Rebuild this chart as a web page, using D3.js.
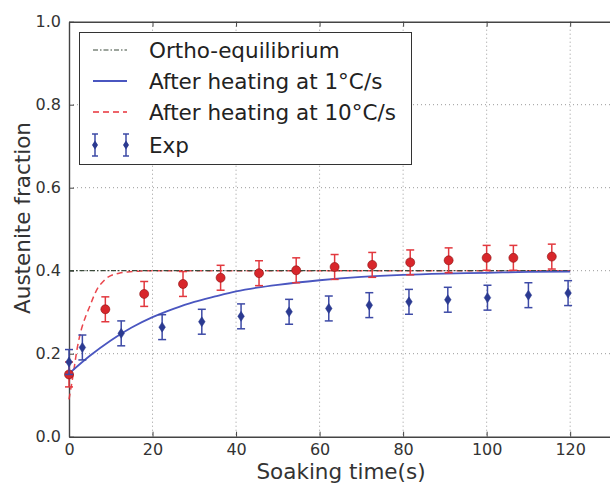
<!DOCTYPE html>
<html><head><meta charset="utf-8">
<script src="https://cdn.jsdelivr.net/npm/d3@7"></script>
<style>
html,body{margin:0;padding:0;background:#fff;overflow:hidden;}
svg{display:block;font-family:"DejaVu Sans",sans-serif;}
</style></head>
<body>
<svg id="c" width="610" height="484"></svg>
<script>
// ---- data ----
const xTicks = [0, 20, 40, 60, 80, 100, 120];
const yTicks = [0.0, 0.2, 0.4, 0.6, 0.8, 1.0];

const orthoT = [0, 120];
const orthoV = [0.4, 0.4];

const slowT = [0, 5, 10, 15, 20, 25, 30, 35, 40, 45, 50, 60, 70, 80, 90, 100, 110, 120];
const slowV = [0.152, 0.195, 0.232, 0.263, 0.288, 0.308, 0.325, 0.338, 0.350, 0.359, 0.366, 0.377, 0.385, 0.390, 0.393, 0.395, 0.397, 0.398];

const fastT = [0, 1, 2, 3, 4, 5, 6, 7, 8, 9, 10, 12, 14, 17, 20, 30, 60, 120];
const fastV = [0.09, 0.15, 0.215, 0.26, 0.29, 0.315, 0.34, 0.36, 0.372, 0.382, 0.388, 0.394, 0.397, 0.399, 0.4, 0.4, 0.4, 0.4];

const expRedT = [0, 8.7, 18.0, 27.3, 36.3, 45.5, 54.4, 63.6, 72.6, 81.7, 90.9, 100.0, 106.4, 115.6];
const expRedV = [0.15, 0.307, 0.344, 0.368, 0.383, 0.394, 0.401, 0.409, 0.414, 0.420, 0.425, 0.431, 0.431, 0.434];
const expRedErr = [0.03, 0.03, 0.03, 0.03, 0.03, 0.03, 0.03, 0.03, 0.03, 0.03, 0.03, 0.03, 0.03, 0.03];

const expBlueT = [0, 3.2, 12.5, 22.3, 31.8, 41.2, 52.7, 62.2, 71.9, 81.4, 90.7, 100.2, 110.0, 119.5];
const expBlueV = [0.18, 0.215, 0.249, 0.264, 0.277, 0.290, 0.301, 0.309, 0.317, 0.325, 0.330, 0.335, 0.341, 0.346];
const expBlueErr = [0.03, 0.03, 0.03, 0.03, 0.03, 0.03, 0.03, 0.03, 0.03, 0.03, 0.03, 0.03, 0.03, 0.03];

const legendLabels = ["Ortho-equilibrium", "After heating at 1\u00B0C/s", "After heating at 10\u00B0C/s", "Exp"];

// ---- drawing ----
const svg = d3.select("#c");
const L = 69, R = 653.7, T = 21.7, B = 436.7;
const x = d3.scaleLinear().domain([0, 140]).range([L, R]);
const y = d3.scaleLinear().domain([0, 1]).range([B, T]);

const axisCol = "#444", txtCol = "#333";
const blueLine = "#4a56c0", blueMark = "#2b3a91", blueErr = "#3d4aa6";
const redLine = "#e8323a", redMark = "#d8262b", redErr = "#e2383e";

// grid
const g = svg.append("g");
g.selectAll(".vg").data(xTicks.filter(d => d > 0)).enter().append("line")
  .attr("x1", d => x(d)).attr("x2", d => x(d)).attr("y1", T).attr("y2", B)
  .attr("stroke", "#999").attr("stroke-width", 1).attr("stroke-dasharray", "1,3");
g.selectAll(".hg").data(yTicks.filter(d => d > 0 && d < 1)).enter().append("line")
  .attr("x1", L).attr("x2", R).attr("y1", d => y(d)).attr("y2", d => y(d))
  .attr("stroke", "#999").attr("stroke-width", 1).attr("stroke-dasharray", "1,3");

// axes with inward ticks
const ax = d3.axisBottom(x).tickValues(xTicks).tickFormat(d3.format("d")).tickSizeInner(-5).tickSizeOuter(0).tickPadding(7);
const ay = d3.axisLeft(y).tickValues(yTicks).tickFormat(d3.format(".1f")).tickSizeInner(-5).tickSizeOuter(0).tickPadding(8);
const axT = d3.axisTop(x).tickValues(xTicks).tickFormat("").tickSizeInner(-5).tickSizeOuter(0);
const ayR = d3.axisRight(y).tickValues(yTicks).tickFormat("").tickSizeInner(-5).tickSizeOuter(0);

function styleAxis(sel) {
  sel.select(".domain").attr("stroke", axisCol).attr("stroke-width", 1.4);
  sel.selectAll(".tick line").attr("stroke", axisCol).attr("stroke-width", 1);
  sel.selectAll(".tick text").attr("fill", txtCol).style("font-size", "16px").style("font-family", "DejaVu Sans");
}
styleAxis(svg.append("g").attr("transform", `translate(0,${B})`).call(ax));
styleAxis(svg.append("g").attr("transform", `translate(${L},0)`).call(ay));
styleAxis(svg.append("g").attr("transform", `translate(0,${T})`).call(axT));
styleAxis(svg.append("g").attr("transform", `translate(${R},0)`).call(ayR));

// lines
const line = d3.line().x(d => x(d[0])).y(d => y(d[1]));
const lineC = d3.line().x(d => x(d[0])).y(d => y(d[1])).curve(d3.curveMonotoneX);

svg.append("path").datum(d3.zip(fastT, fastV)).attr("d", lineC)
  .attr("fill", "none").attr("stroke", redLine).attr("stroke-width", 1.5).attr("stroke-dasharray", "6,4").attr("opacity", 0.9);
svg.append("path").datum(d3.zip(orthoT, orthoV)).attr("d", line)
  .attr("fill", "none").attr("stroke", "#3a4a3a").attr("stroke-width", 1.2).attr("stroke-dasharray", "5,2,1.5,2");
svg.append("path").datum(d3.zip(slowT, slowV)).attr("d", lineC)
  .attr("fill", "none").attr("stroke", blueLine).attr("stroke-width", 1.8);

// error bars
function errorbars(T_, V_, E_, col, markCol, shape) {
  const data = T_.map((t, i) => ({t, v: V_[i], e: E_[i]}));
  const gg = svg.append("g");
  gg.selectAll(".eb").data(data).enter().append("line")
    .attr("x1", d => x(d.t)).attr("x2", d => x(d.t))
    .attr("y1", d => y(d.v - d.e)).attr("y2", d => y(d.v + d.e))
    .attr("stroke", col).attr("stroke-width", 1.5);
  ["lo", "hi"].forEach(k => {
    gg.selectAll(".cap" + k).data(data).enter().append("line")
      .attr("x1", d => x(d.t) - 4).attr("x2", d => x(d.t) + 4)
      .attr("y1", d => y(k === "lo" ? d.v - d.e : d.v + d.e))
      .attr("y2", d => y(k === "lo" ? d.v - d.e : d.v + d.e))
      .attr("stroke", col).attr("stroke-width", 1.5);
  });
  if (shape === "circle") {
    gg.selectAll(".m").data(data).enter().append("circle")
      .attr("cx", d => x(d.t)).attr("cy", d => y(d.v)).attr("r", 4.5)
      .attr("fill", markCol).attr("stroke", "#8a1010").attr("stroke-width", 0.6);
  } else {
    gg.selectAll(".m").data(data).enter().append("path")
      .attr("transform", d => `translate(${x(d.t)},${y(d.v)})`)
      .attr("d", "M0,-5L3.3,0L0,5L-3.3,0Z")
      .attr("fill", markCol).attr("stroke", markCol).attr("stroke-width", 0.5);
  }
}
errorbars(expRedT, expRedV, expRedErr, redErr, redMark, "circle");
errorbars(expBlueT, expBlueV, expBlueErr, blueErr, blueMark, "diamond");

// axis labels
svg.append("text").attr("x", 341).attr("y", 479).attr("text-anchor", "middle")
  .attr("fill", txtCol).style("font-size", "21.5px").text("Soaking time(s)");
svg.append("text").attr("transform", "translate(30,218) rotate(-90)").attr("text-anchor", "middle")
  .attr("fill", txtCol).style("font-size", "21.5px").text("Austenite fraction");

// legend
const lg = svg.append("g");
lg.append("rect").attr("x", 79.5).attr("y", 32.5).attr("width", 332).attr("height", 132)
  .attr("fill", "#fff").attr("stroke", "#333").attr("stroke-width", 1);
const rows = [50, 81, 112, 145];
const hx1 = 93, hx2 = 127;
lg.append("line").attr("x1", hx1).attr("x2", hx2).attr("y1", rows[0]).attr("y2", rows[0])
  .attr("stroke", "#3a4a3a").attr("stroke-width", 1.2).attr("stroke-dasharray", "5,2,1.5,2");
lg.append("line").attr("x1", hx1).attr("x2", hx2).attr("y1", rows[1]).attr("y2", rows[1])
  .attr("stroke", blueLine).attr("stroke-width", 1.8);
lg.append("line").attr("x1", hx1).attr("x2", hx2).attr("y1", rows[2]).attr("y2", rows[2])
  .attr("stroke", redLine).attr("stroke-width", 1.5).attr("stroke-dasharray", "6,4");
[95, 126].forEach(cx => {
  lg.append("line").attr("x1", cx).attr("x2", cx).attr("y1", rows[3] - 11).attr("y2", rows[3] + 11)
    .attr("stroke", blueErr).attr("stroke-width", 1.5);
  [-11, 11].forEach(o => lg.append("line").attr("x1", cx - 3).attr("x2", cx + 3)
    .attr("y1", rows[3] + o).attr("y2", rows[3] + o).attr("stroke", blueErr).attr("stroke-width", 1.5));
  lg.append("path").attr("transform", `translate(${cx},${rows[3]})`).attr("d", "M0,-4.5L3,0L0,4.5L-3,0Z")
    .attr("fill", blueMark);
});
lg.selectAll(".lt").data(legendLabels).enter().append("text")
  .attr("x", 149).attr("y", (d, i) => rows[i]).attr("dy", "0.35em")
  .attr("fill", "#222").style("font-size", "21.5px").text(d => d);
</script>
</body></html>
